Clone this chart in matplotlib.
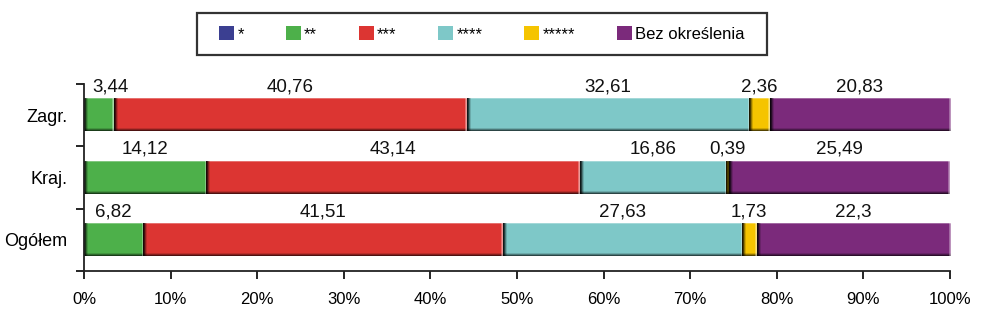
import numpy as np
import matplotlib
matplotlib.use("Agg")
import matplotlib.pyplot as plt
from matplotlib.colors import to_rgb
from matplotlib.patches import Patch, Rectangle

categories = ["Zagr.", "Kraj.", "Ogółem"]
series = ["*", "**", "***", "****", "*****", "Bez określenia"]
colors = ["#3b3f91", "#4db04a", "#dc3532", "#7ec8c8", "#f5c400", "#7b2a7b"]

# share of each category (percent), one list per series
v_1star = [0.0, 0.0, 0.0]
v_2star = [3.44, 14.12, 6.82]
v_3star = [40.76, 43.14, 41.51]
v_4star = [32.61, 16.86, 27.63]
v_5star = [2.36, 0.39, 1.73]
v_none = [20.83, 25.49, 22.3]
values = [v_1star, v_2star, v_3star, v_4star, v_5star, v_none]

xticks = list(range(0, 101, 10))

plt.rcParams["font.family"] = ["Liberation Sans", "DejaVu Sans"]

W, H = 992, 327
fig = plt.figure(figsize=(W / 100, H / 100), dpi=100)
ax = fig.add_axes([84 / W, 1 - 271 / H, 866 / W, 187 / H])

px_per_pct = 866 / 100
bar_h = 0.52
bar_px = 32


def draw_segment(left, width, yc, color):
    """Bar segment with a bevelled look: dark left/bottom, light right/top."""
    nx = max(int(round(width * px_per_pct)), 1)
    base = np.array(to_rgb(color))
    img = np.tile(base, (bar_px, nx, 1))
    white = np.ones(3)
    img[0] = img[0] * 0.7 + white * 0.3
    for k, f in enumerate([0.85, 0.6, 0.35]):
        img[bar_px - 3 + k] *= f
    for k, f in enumerate([0.12, 0.3, 0.6, 0.85]):
        if k < nx:
            img[:, k] *= f
    for k, a in enumerate([0.5, 0.3]):
        if nx - 1 - k > 3:
            img[:, nx - 1 - k] = img[:, nx - 1 - k] * (1 - a) + white * a
    ax.imshow(np.clip(img, 0, 1), extent=(left, left + width, yc + bar_h / 2, yc - bar_h / 2),
              aspect="auto", interpolation="nearest", zorder=2)


for i, cat in enumerate(categories):
    left = 0.0
    for s, vals in enumerate(values):
        v = vals[i]
        if v > 0:
            draw_segment(left, v, i, colors[s])
            ax.text(max(left + v / 2, 3.0), i - 0.45, f"{v:g}".replace(".", ","),
                    ha="center", va="center", fontsize=13.5, color="#111111")
        left += v

ax.set_xlim(0, 100)
ax.set_ylim(len(categories) - 0.5, -0.5)
ax.set_aspect("auto")

ax.set_xticks(xticks)
ax.set_xticklabels([f"{t}%" for t in xticks], fontsize=12)
ax.set_yticks([i - 0.5 for i in range(len(categories) + 1)])
ax.set_yticklabels([])
ax.set_yticks(range(len(categories)), minor=True)
ax.set_yticklabels(categories, minor=True, fontsize=13)
ax.tick_params(axis="y", which="minor", length=0, pad=12)
ax.tick_params(axis="y", which="major", length=6, width=1.2, direction="out")
ax.tick_params(axis="x", length=6, width=1.2, direction="out", pad=9)

for side in ["top", "right"]:
    ax.spines[side].set_visible(False)
for side in ["left", "bottom"]:
    ax.spines[side].set_linewidth(1.3)
    ax.spines[side].set_color("#222222")

# legend in a hand-drawn frame
handles = [Patch(facecolor=c, edgecolor="none") for c in colors]
fig.legend(handles, series, loc="center", bbox_to_anchor=(482 / W, 1 - 34 / H),
           ncol=6, frameon=False, fontsize=12, handlelength=0.9, handleheight=0.9,
           handletextpad=0.2, columnspacing=2.5)
fig.patches.append(Rectangle((197 / W, 1 - 55 / H), 570 / W, 42 / H, transform=fig.transFigure,
                             fill=False, edgecolor="#333333", linewidth=1.6))

fig.savefig("out.png", dpi=100)
